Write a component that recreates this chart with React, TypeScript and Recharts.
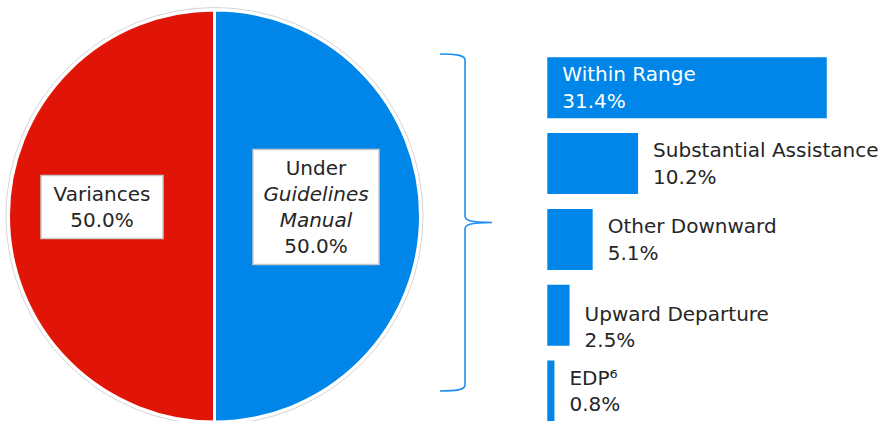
import { PieChart, Pie, Cell, BarChart, Bar, XAxis, YAxis, LabelList } from "recharts";

// pie: sentences under the manual vs. variances
const pieNames = ["Under Guidelines Manual", "Variances"];
const pieValues = [50.0, 50.0];
const pieColors = ["#0085E8", "#E01507"];

// breakdown of sentences under the manual
const barNames = ["Within Range", "Substantial Assistance", "Other Downward", "Upward Departure", "EDP⁶"];
const barValues = [31.4, 10.2, 5.1, 2.5, 0.8];

const FONT = "'DejaVu Sans', 'Noto Sans', sans-serif";
const TEXT = "#262626";
const BLUE = "#0085E8";

const pieData = pieNames.map((name, i) => ({ name, value: pieValues[i] }));
const barData = barNames.map((name, i) => ({ name, value: barValues[i] }));

// label lines for each pie slice (italic flag for the manual title)
const pieLabelLines: Record<string, { text: string; italic?: boolean }[]> = {
  Variances: [{ text: "Variances" }],
  "Under Guidelines Manual": [
    { text: "Under" },
    { text: "Guidelines", italic: true },
    { text: "Manual", italic: true },
  ],
};
const pieBoxWidth: Record<string, number> = {
  Variances: 122,
  "Under Guidelines Manual": 126,
};

const RAD = Math.PI / 180;

function PieLabel(props: any) {
  const { cx, cy, midAngle, name, value } = props;
  const r = 107;
  const x = cx + r * Math.cos(-midAngle * RAD) - 5.5;
  const y = cy + r * Math.sin(-midAngle * RAD) - 9;
  const lines = [...pieLabelLines[name], { text: `${Number(value).toFixed(1)}%` }];
  const lh = 26;
  const h = lines.length * lh + 11;
  const w = pieBoxWidth[name];
  return (
    <g>
      <rect x={x - w / 2} y={y - h / 2} width={w} height={h} fill="#fff" stroke="#c8c8c8" strokeWidth={1.5} />
      {lines.map((l, i) => (
        <text
          key={i}
          x={x}
          y={y + (i - (lines.length - 1) / 2) * lh}
          textAnchor="middle"
          dominantBaseline="central"
          fontFamily={FONT}
          fontSize={20}
          fontStyle={l.italic ? "italic" : "normal"}
          fill={TEXT}
        >
          {l.text}
        </text>
      ))}
    </g>
  );
}

function BarLabel(props: any) {
  const { x, y, width, height, value, index } = props;
  const name = barNames[index];
  const inside = index === 0;
  const tx = inside ? x + 15 : x + width + 15;
  const cy = y + height / 2 + (name === "Upward Departure" ? 12 : 0);
  const fill = inside ? "#fff" : TEXT;
  return (
    <g>
      <text x={tx} y={cy - 13.3} dominantBaseline="central" fontFamily={FONT} fontSize={20} fill={fill}>
        {name}
      </text>
      <text x={tx} y={cy + 13.3} dominantBaseline="central" fontFamily={FONT} fontSize={20} fill={fill}>
        {`${Number(value).toFixed(1)}%`}
      </text>
    </g>
  );
}

export default function App() {
  return (
    <div style={{ position: "relative", width: 878, height: 421, overflow: "hidden", background: "#fff" }}>
      <style>{"body{margin:0;overflow:hidden}"}</style>

      {/* thin grey ring round the pie */}
      <svg width={878} height={421} style={{ position: "absolute", left: 0, top: 0 }}>
        <circle cx={214.5} cy={216} r={208.5} fill="none" stroke="#d4d4d4" strokeWidth={1} />
      </svg>

      <div style={{ position: "absolute", left: 0, top: 0 }}>
        <PieChart width={440} height={421} margin={{ top: 0, right: 0, bottom: 0, left: 0 }}>
          <Pie
            data={pieData}
            dataKey="value"
            nameKey="name"
            cx={214.5}
            cy={216}
            outerRadius={206}
            startAngle={90}
            endAngle={-270}
            stroke="#fff"
            strokeWidth={3}
            label={<PieLabel />}
            labelLine={false}
            isAnimationActive={false}
          >
            {pieData.map((d, i) => (
              <Cell key={d.name} fill={pieColors[i]} />
            ))}
          </Pie>
        </PieChart>
      </div>

      <div style={{ position: "absolute", left: 0, top: 0 }}>
        <BarChart
          width={878}
          height={480}
          data={barData}
          layout="vertical"
          barCategoryGap="10%"
          margin={{ top: 49.7, right: 19.2, bottom: 51.3, left: 547.3 }}
        >
          <XAxis type="number" domain={[0, 35]} hide />
          <YAxis type="category" dataKey="name" hide />
          <Bar dataKey="value" fill={BLUE} isAnimationActive={false}>
            <LabelList dataKey="value" content={<BarLabel />} />
          </Bar>
        </BarChart>
      </div>

      {/* brace joining the pie slice to its breakdown */}
      <svg width={878} height={421} style={{ position: "absolute", left: 0, top: 0, pointerEvents: "none" }}>
        <path
          d="M440,54 C456,54 465,55 465,60 L465,216 C465,220 469,222.5 492,222.5 C469,222.5 465,225 465,229 L465,385 C465,390 456,391 440,391"
          fill="none"
          stroke="#1E8FEF"
          strokeWidth={1.6}
        />
      </svg>
    </div>
  );
}
